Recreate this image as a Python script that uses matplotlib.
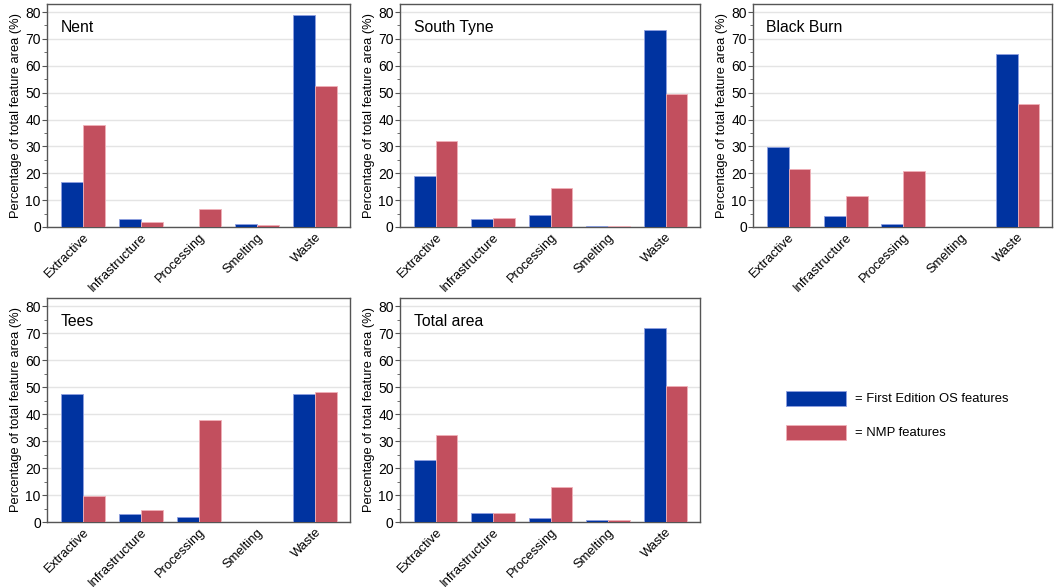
import numpy as np
import matplotlib.pyplot as plt
import matplotlib.transforms as mtransforms
from matplotlib.patches import Rectangle
from matplotlib.ticker import MultipleLocator

plt.rcParams['font.family'] = ['Liberation Sans', 'DejaVu Sans']

categorias = ['Extractive', 'Infrastructure', 'Processing', 'Smelting', 'Waste']

# Porcentajes por zona: (primera edicion OS, NMP)
nent_os = [16.6, 3.0, 0.0, 1.0, 79.0]
nent_nmp = [38.1, 1.7, 6.7, 0.7, 52.5]
south_tyne_os = [18.9, 3.0, 4.3, 0.25, 73.2]
south_tyne_nmp = [31.9, 3.5, 14.4, 0.5, 49.6]
black_burn_os = [29.9, 4.2, 1.1, 0.0, 64.4]
black_burn_nmp = [21.6, 11.4, 20.8, 0.0, 45.8]
tees_os = [47.3, 3.0, 1.9, 0.0, 47.5]
tees_nmp = [9.7, 4.3, 37.7, 0.0, 48.1]
total_os = [23.0, 3.2, 1.5, 0.6, 71.7]
total_nmp = [32.3, 3.5, 12.9, 0.6, 50.5]

paneles = [
    ('Nent', nent_os, nent_nmp),
    ('South Tyne', south_tyne_os, south_tyne_nmp),
    ('Black Burn', black_burn_os, black_burn_nmp),
    ('Tees', tees_os, tees_nmp),
    ('Total area', total_os, total_nmp),
]

azul = '#0033a0'
rojo = '#c24f5e'
gris = '#555555'

fig = plt.figure(figsize=(10.58, 5.87), dpi=100)

W, H = 1058, 587
# posiciones de los ejes en pixeles (izq, arriba, der, abajo)
cajas = [
    (47, 4, 350, 227),
    (400, 4, 700, 227),
    (753, 4, 1052, 227),
    (47, 298, 350, 522),
    (400, 298, 700, 522),
]

x = np.arange(len(categorias))
ancho = 0.38

# desplazamiento de las etiquetas giradas (en pixeles)
desplaz = mtransforms.ScaledTranslation(4 / 100, 0, fig.dpi_scale_trans)

for (titulo, os_vals, nmp_vals), (l, t, r, b) in zip(paneles, cajas):
    ax = fig.add_axes([l / W, 1 - b / H, (r - l) / W, (b - t) / H])
    ax.bar(x - ancho / 2, os_vals, ancho, color=azul, edgecolor='#8fa0e0', linewidth=0.6, zorder=3)
    ax.bar(x + ancho / 2, nmp_vals, ancho, color=rojo, edgecolor='#f0b0b8', linewidth=0.6, zorder=3)
    ax.set_xlim(-0.62, 4.6)
    ax.set_ylim(0, 83)
    ax.yaxis.set_major_locator(MultipleLocator(10))
    ax.yaxis.set_minor_locator(MultipleLocator(5))
    ax.grid(axis='y', which='major', color='#e4e4e4', linewidth=1.0, zorder=0)
    ax.set_xticks(x)
    ax.set_xticklabels(categorias, rotation=45, ha='right', va='top',
                       rotation_mode='anchor', fontsize=9.4)
    for lab in ax.get_xticklabels():
        lab.set_transform(lab.get_transform() + desplaz)
    ax.tick_params(axis='x', length=0, pad=3)
    ax.tick_params(axis='y', which='major', length=3.5, color=gris, labelsize=10, pad=1)
    ax.tick_params(axis='y', which='minor', length=2, color=gris)
    for s in ax.spines.values():
        s.set_color(gris)
        s.set_linewidth(1.0)
    ax.set_ylabel('Percentage of total feature area (%)', fontsize=9.3, labelpad=2)
    ax.text(0.045, 0.895, titulo, transform=ax.transAxes, fontsize=11.3, va='center', ha='left')

# leyenda dibujada a mano
fig.patches.append(Rectangle((786 / W, 1 - 406 / H), 60 / W, 15 / H, transform=fig.transFigure,
                             facecolor=azul, edgecolor='#8fa0e0', linewidth=0.6))
fig.patches.append(Rectangle((786 / W, 1 - 440 / H), 60 / W, 15 / H, transform=fig.transFigure,
                             facecolor=rojo, edgecolor='#f0b0b8', linewidth=0.6))
fig.text(855 / W, 1 - 398.5 / H, '= First Edition OS features', fontsize=9.4, va='center')
fig.text(855 / W, 1 - 432.5 / H, '= NMP features', fontsize=9.4, va='center')

fig.savefig('out.png', dpi=100)
